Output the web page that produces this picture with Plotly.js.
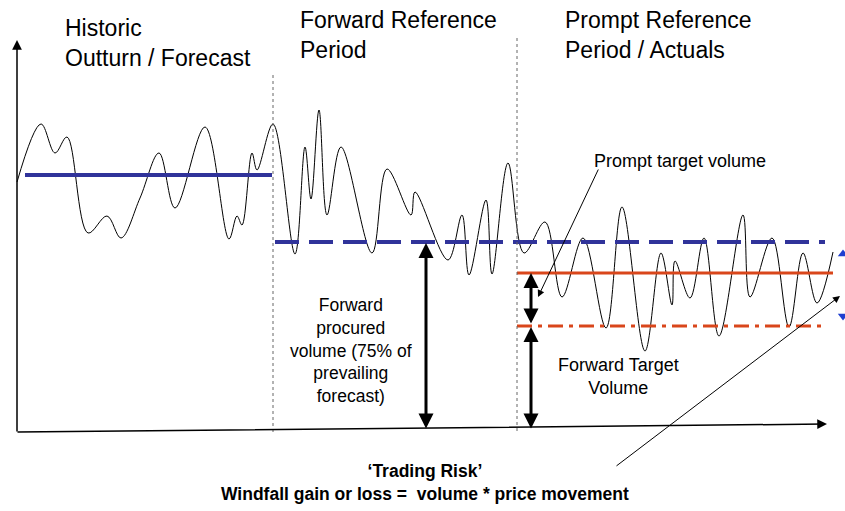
<!DOCTYPE html>
<html>
<head>
<meta charset="utf-8">
<script src="https://cdn.plot.ly/plotly-3.0.1.min.js"></script>
<style>html,body{margin:0;padding:0;background:#fff;}#chart{width:845px;height:511px;}</style>
</head>
<body>
<div id="chart"></div>
<script>
// Volume curve (diagram units, y grows downward)
const curveX = [17,41,55,67,88,107,121,140,159,175,205,229,237,242,252,257,273,295,305,311,319,327,341,372,387,411,415,448,462,469,486,492,508,524,545,562,583,606,622,645,661,672,675,690,704,719,743,750,772,789,803,817,833];
const curveY = [182,124,153,137,233,216,238,198,153,208,127,239,216,225,153,170,124,254,147,199,110,215,147,253,169,215,192,260,215,275,200,274,163,253,222,297,238,328,207,351,253,305,261,298,238,336,215,297,238,327,253,303,252];

// Period boundaries and levels
const periodStart = [25, 273, 517];
const periodEnd = [273, 517, 833];
const historicLevel = 175;
const forwardLevel = 242;
const promptTarget = 273;
const forwardTarget = 326;
const baseLevel = 430;

const periodTitles = ["Historic<br>Outturn / Forecast", "Forward Reference<br>Period", "Prompt Reference<br>Period / Actuals"];

const FONT = "Liberation Sans, Arial, sans-serif";
const BLUE = "#30339a";
const RED = "#d9461b";

const traces = [
  {x: curveX, y: curveY, mode: "lines", line: {color: "#000", width: 1, shape: "spline", smoothing: 1.0}, hoverinfo: "skip"},
  {x: [periodStart[0], periodEnd[0]-1], y: [historicLevel, historicLevel], mode: "lines", line: {color: BLUE, width: 4}},
  {x: [periodStart[1]+2, 825], y: [forwardLevel, forwardLevel], mode: "lines", line: {color: BLUE, width: 4, dash: "24px,10px"}},
  {x: [periodStart[2], periodEnd[2]], y: [promptTarget, promptTarget], mode: "lines", line: {color: RED, width: 3}},
  {x: [periodStart[2], 825], y: [forwardTarget, forwardTarget], mode: "lines", line: {color: RED, width: 3, dash: "15px,6px,4px,6px"}},
  {x: [periodStart[1], periodStart[1]], y: [75, 432], mode: "lines", line: {color: "#666", width: 1, dash: "3px,3px"}},
  {x: [periodStart[2], periodStart[2]], y: [38, 432], mode: "lines", line: {color: "#666", width: 1, dash: "3px,3px"}},
  {x: [843, 843], y: [254, 316], mode: "markers", marker: {symbol: ["triangle-up", "triangle-down"], size: 9, color: "#1f3fd0"}}
];

function arrow(x, y, ax, ay, w, both, size) {
  return {x: x, y: y, ax: ax, ay: ay, xref: "x", yref: "y", axref: "x", ayref: "y",
    text: "", showarrow: true, arrowhead: 2, arrowsize: size || 1, arrowwidth: w, arrowcolor: "#000",
    startarrowhead: 2, startarrowsize: size || 1, arrowside: both ? "end+start" : "end", standoff: 0, startstandoff: 0};
}

const annotations = [
  arrow(17, 40, 17, 433, 1.5, false, 1.3),
  arrow(827, 424, 16, 432, 1.5, false, 1.3),
  arrow(426, forwardLevel + 1, 426, baseLevel, 3, true, 1),
  arrow(531, promptTarget, 531, forwardTarget - 1, 3, true, 1),
  arrow(531, forwardTarget + 1, 531, baseLevel, 3, true, 1),
  arrow(538, 297, 599, 168, 1, false, 1.4),
  arrow(840, 296, 615, 467, 1, false, 1.4)
];

function label(x, y, text, size, opts) {
  return Object.assign({x: x, y: y, xref: "x", yref: "y", text: text, showarrow: false,
    xanchor: "left", yanchor: "middle", align: "left",
    font: {family: FONT, size: size, color: "#000"}}, opts || {});
}

annotations.push(label(63, 43, periodTitles[0], 23));
annotations.push(label(298, 35, periodTitles[1], 23));
annotations.push(label(563, 35, periodTitles[2], 23));
annotations.push(label(592, 161, "Prompt target volume", 18));
annotations.push(label(351, 350, "Forward<br>procured<br>volume (75% of<br>prevailing<br>forecast)", 17.5, {xanchor: "center", align: "center"}));
annotations.push(label(618, 376, "Forward Target<br>Volume", 18, {xanchor: "center", align: "center"}));
annotations.push(label(425, 482, "<b>‘Trading Risk’</b><br><b>Windfall gain or loss =  volume * price movement</b>", 17.5, {xanchor: "center", align: "center"}));

const layout = {
  width: 845, height: 511,
  margin: {l: 0, r: 0, t: 0, b: 0},
  paper_bgcolor: "#fff", plot_bgcolor: "#fff",
  showlegend: false,
  xaxis: {range: [0, 845], visible: false, fixedrange: true},
  yaxis: {range: [511, 0], visible: false, fixedrange: true},
  annotations: annotations
};

Plotly.newPlot("chart", traces, layout, {staticPlot: true, displayModeBar: false});
</script>
</body>
</html>
